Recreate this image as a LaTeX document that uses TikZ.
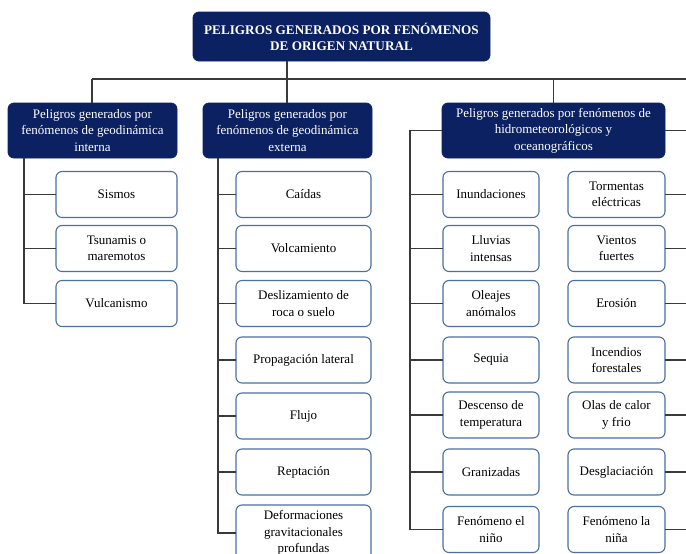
\documentclass[tikz,border=0pt]{standalone}
\usepackage{fontspec}
\setmainfont{Liberation Serif}
\definecolor{navy}{HTML}{0B2161}
\definecolor{leafborder}{HTML}{4A6EA6}
\definecolor{connc}{HTML}{3A3A3A}
\begin{document}
\begin{tikzpicture}[x=1pt,y=-1pt,
  every node/.style={inner sep=1pt, outer sep=0pt, align=center, font=\fontsize{13}{16.5}\selectfont},
  hdr/.style={draw=navy, fill=navy, text=white, rounded corners=6pt, line width=0.8pt, minimum height=55pt},
  ttl/.style={hdr, font=\fontsize{13.2}{16}\selectfont\bfseries, minimum height=49pt, minimum width=297pt},
  leaf/.style={draw=leafborder, fill=white, rounded corners=6pt, line width=1.1pt, minimum height=46pt},
  lw/.style={leaf, minimum width=121pt},
  mw/.style={leaf, minimum width=135pt},
  hw/.style={leaf, minimum width=96pt},
  conn/.style={draw=connc, line width=1.2pt}]
\useasboundingbox (0,0) rectangle (686,554);
\clip (0,0) rectangle (686,554);

% title
\node[ttl] (title) at (341.5,36.5) {PELIGROS GENERADOS POR FENÓMENOS\\DE ORIGEN NATURAL};

% headers
\node[hdr, minimum width=169pt] (lh) at (92.5,130.5) {Peligros generados por\\fenómenos de geodinámica\\interna};
\node[hdr, minimum width=169pt] (mh) at (287.5,130.5) {Peligros generados por\\fenómenos de geodinámica\\externa};
\node[hdr, minimum width=223pt] (rh) at (553.5,130.5) {Peligros generados por fenómenos de\\hidrometeorológicos y\\oceanográficos};

% left leaves
\node[lw] (l1) at (116.5,194.5) {Sismos};
\node[lw] (l2) at (116.5,248.5) {Tsunamis o\\maremotos};
\node[lw] (l3) at (116.5,303.5) {Vulcanismo};

% middle leaves
\node[mw] (m1) at (303.5,194.5) {Caídas};
\node[mw] (m2) at (303.5,248.5) {Volcamiento};
\node[mw] (m3) at (303.5,303.5) {Deslizamiento de\\roca o suelo};
\node[mw] (m4) at (303.5,360) {Propagación lateral};
\node[mw] (m5) at (303.5,416) {Flujo};
\node[mw] (m6) at (303.5,472) {Reptación};
\node[mw, minimum height=56pt] (m7) at (303.5,533) {Deformaciones\\gravitacionales\\profundas};

% hydro left
\node[hw] (a1) at (491,194.5) {Inundaciones};
\node[hw] (a2) at (491,248.5) {Lluvias\\intensas};
\node[hw] (a3) at (491,303.5) {Oleajes\\anómalos};
\node[hw] (a4) at (491,360) {Sequia};
\node[hw] (a5) at (491,415) {Descenso de\\temperatura};
\node[hw] (a6) at (491,472) {Granizadas};
\node[hw] (a7) at (491,529.5) {Fenómeno el\\niño};

% hydro right
\node[hw, minimum width=97pt] (b1) at (616.5,194.5) {Tormentas\\eléctricas};
\node[hw, minimum width=97pt] (b2) at (616.5,248.5) {Vientos\\fuertes};
\node[hw, minimum width=97pt] (b3) at (616.5,303.5) {Erosión};
\node[hw, minimum width=97pt] (b4) at (616.5,360) {Incendios\\forestales};
\node[hw, minimum width=97pt] (b5) at (616.5,415) {Olas de calor\\y frio};
\node[hw, minimum width=97pt] (b6) at (616.5,472) {Desglaciación};
\node[hw, minimum width=97pt] (b7) at (616.5,529.5) {Fenómeno la\\niña};

% coordinates
\coordinate (bus) at (287,79);
\coordinate (busL) at (92,79);
\coordinate (busR) at (686,79);
\coordinate (lx) at (24,0);
\coordinate (mx) at (218,0);
\coordinate (rx) at (410,0);
\coordinate (ex) at (686,0);

% top connectors
\draw[conn] (title.south -| bus) -- (bus);
\draw[conn] (busL) -- (busR);
\draw[conn] (busL) -- (lh.north -| busL);
\draw[conn] (bus) -- (mh.north -| bus);
\draw[conn] (rh.north |- bus) -- (rh.north);

% left tree
\draw[conn] (lh.south -| lx) -- (l3.west -| lx) -- (l3.west);
\draw[conn] (l1.west -| lx) -- (l1.west);
\draw[conn] (l2.west -| lx) -- (l2.west);

% middle tree
\draw[conn] (mh.south -| mx) -- (m7.west -| mx) -- (m7.west);
\foreach \n in {m1,m2,m3,m4,m5,m6}
  \draw[conn] (\n.west -| mx) -- (\n.west);

% right tree
\draw[conn] (rh.west) -- (rh.west -| rx) -- (a7.west -| rx) -- (a7.west);
\foreach \n in {a1,a2,a3,a4,a5,a6}
  \draw[conn] (\n.west -| rx) -- (\n.west);
\draw[conn] (rh.east) -- (rh.east -| ex);
\foreach \n in {b1,b2,b3,b4,b5,b6,b7}
  \draw[conn] (\n.east) -- (\n.east -| ex);
\end{tikzpicture}
\end{document}
